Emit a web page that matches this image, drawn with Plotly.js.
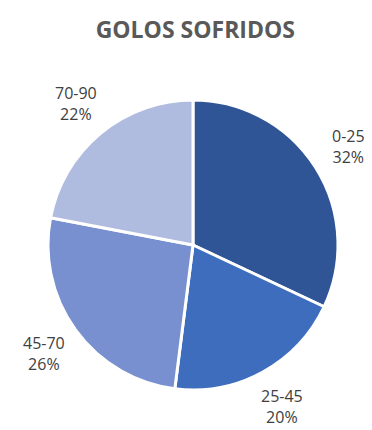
<!DOCTYPE html>
<html><head><meta charset="utf-8">
<script src="https://cdn.plot.ly/plotly-3.0.1.min.js"></script>
<style>html,body{margin:0;padding:0;background:#fff}</style>
</head><body>
<div id="chart" style="width:372px;height:430px"></div>
<script>
const categories = ['0-25', '25-45', '45-70', '70-90'];
const values = [32, 20, 26, 22];
const colors = ['#2f5597', '#3e6dbd', '#7890cf', '#b0bcdf'];

// label annotations placed along each slice's mid-angle, derived from the data
const total = values.reduce((a, b) => a + b, 0);
const labelRadius = 1.27; // relative to pie radius
let cum = 0;
const annotations = values.map((v, i) => {
  const mid = (cum + v / 2) / total * 2 * Math.PI;
  cum += v;
  const pct = Math.round(v / total * 100);
  return {
    xref: 'paper', yref: 'paper',
    x: 0.5 + 0.5 * labelRadius * Math.sin(mid),
    y: 0.5 + 0.5 * labelRadius * Math.cos(mid),
    xanchor: 'center', yanchor: 'middle', align: 'center',
    showarrow: false,
    text: categories[i] + '<br>' + pct + '%',
    font: {family: 'Open Sans, sans-serif', size: 16, color: '#404040'}
  };
});

Plotly.newPlot('chart', [{
  type: 'pie',
  labels: categories,
  values: values,
  sort: false,
  direction: 'clockwise',
  rotation: 0,
  marker: {colors: colors, line: {color: '#ffffff', width: 3}},
  textinfo: 'none',
  automargin: false,
  showlegend: false,
  hoverinfo: 'label+percent'
}], {
  width: 372, height: 430,
  margin: {l: 48, r: 34, t: 100, b: 40},
  paper_bgcolor: '#ffffff',
  title: {text: '<b>GOLOS SOFRIDOS</b>', x: 0.525, xanchor: 'center', y: 0.93, yanchor: 'middle',
          font: {family: 'Open Sans, sans-serif', size: 23, color: '#595959'}},
  annotations: annotations,
  showlegend: false
}, {displayModeBar: false, staticPlot: true});
</script>
</body></html>
